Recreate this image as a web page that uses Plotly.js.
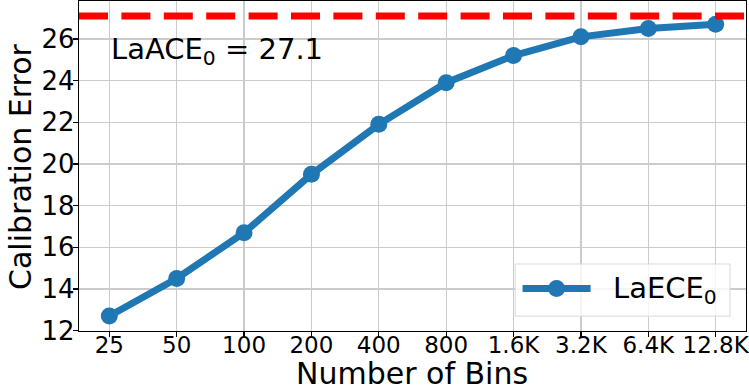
<!DOCTYPE html>
<html>
<head>
<meta charset="utf-8">
<script src="https://cdn.plot.ly/plotly-3.0.1.min.js"></script>
<style>html,body{margin:0;padding:0;background:#fff;}#chart{width:749px;height:387px;}</style>
</head>
<body>
<div id="chart"></div>
<script>
// Data
const bins = ['25', '50', '100', '200', '400', '800', '1.6K', '3.2K', '6.4K', '12.8K'];
const laece = [12.7, 14.5, 16.7, 19.5, 21.9, 23.9, 25.2, 26.1, 26.5, 26.7];
const laace = 27.1;
const seriesName = 'LaECE<sub>0</sub>';
const refLabel = 'LaACE<sub>0</sub> = ' + laace.toFixed(1);
const yTicks = [12, 14, 16, 18, 20, 22, 24, 26];
const xTitle = 'Number of Bins';
const yTitle = 'Calibration Error';

const blue = '#1f77b4';
const font = 'DejaVu Sans, sans-serif';

const traces = [{
  x: bins,
  y: laece,
  type: 'scatter',
  mode: 'lines+markers',
  name: seriesName,
  line: {color: blue, width: 7},
  marker: {color: blue, size: 17},
  showlegend: false,
  cliponaxis: false
}];

const layout = {
  width: 749,
  height: 387,
  margin: {l: 79, r: 3, t: 1, b: 56},
  paper_bgcolor: '#fff',
  plot_bgcolor: '#fff',
  showlegend: false,
  font: {family: font, color: '#000'},
  xaxis: {
    type: 'category',
    range: [-0.45, 9.45],
    showgrid: true,
    gridcolor: '#cbcbcb',
    gridwidth: 1.3,
    showline: true,
    linecolor: '#000',
    linewidth: 1.2,
    mirror: true,
    ticks: 'outside',
    ticklen: 5,
    tickwidth: 1.2,
    tickcolor: '#000',
    ticklabelstandoff: -12,
    tickfont: {family: font, size: 23, color: '#000'},
    zeroline: false,
    automargin: false
  },
  yaxis: {
    range: [11.98, 27.82],
    tickvals: yTicks,
    showgrid: true,
    gridcolor: '#cbcbcb',
    gridwidth: 1.3,
    showline: true,
    linecolor: '#000',
    linewidth: 1.2,
    mirror: true,
    ticks: 'outside',
    ticklen: 5,
    tickwidth: 1.2,
    tickcolor: '#000',
    ticklabelstandoff: -7,
    tickfont: {family: font, size: 26, color: '#000'},
    zeroline: false,
    automargin: false
  },
  shapes: [
    {type: 'line', xref: 'paper', x0: 0, x1: 1, yref: 'y', y0: laace, y1: laace,
     line: {color: '#ff0000', width: 7, dash: '29px,13.4px'}, layer: 'above'},
    // legend box
    {type: 'rect', xref: 'paper', yref: 'paper', x0: 0.654, x1: 0.976, y0: 0.045, y1: 0.203,
     fillcolor: 'rgba(255,255,255,0.8)', line: {color: '#d9d9d9', width: 1}, layer: 'above'},
    {type: 'line', xref: 'paper', yref: 'paper', x0: 0.665, x1: 0.767, y0: 0.129, y1: 0.129,
     line: {color: blue, width: 7}, layer: 'above'},
    {type: 'circle', xref: 'paper', yref: 'paper', xsizemode: 'pixel', ysizemode: 'pixel',
     xanchor: 0.716, yanchor: 0.129, x0: -8.5, x1: 8.5, y0: -8.5, y1: 8.5,
     fillcolor: blue, line: {width: 0}, layer: 'above'}
  ],
  annotations: [
    {xref: 'x', yref: 'y', x: 0, y: 25.44, text: refLabel, showarrow: false,
     xanchor: 'left', yanchor: 'middle', font: {family: font, size: 29, color: '#000'}},
    {xref: 'paper', yref: 'paper', x: 0.797, y: 0.124, text: seriesName, showarrow: false,
     xanchor: 'left', yanchor: 'middle', font: {family: font, size: 29, color: '#000'}},
    {xref: 'paper', yref: 'paper', x: 0.4993, y: -0.128, text: xTitle, showarrow: false,
     xanchor: 'center', yanchor: 'middle', font: {family: font, size: 30, color: '#000'}},
    {xref: 'paper', yref: 'paper', x: -0.0885, y: 0.5, text: yTitle, showarrow: false, textangle: -90,
     xanchor: 'center', yanchor: 'middle', font: {family: font, size: 30, color: '#000'}}
  ]
};

Plotly.newPlot('chart', traces, layout, {displayModeBar: false, staticPlot: true});
</script>
</body>
</html>
